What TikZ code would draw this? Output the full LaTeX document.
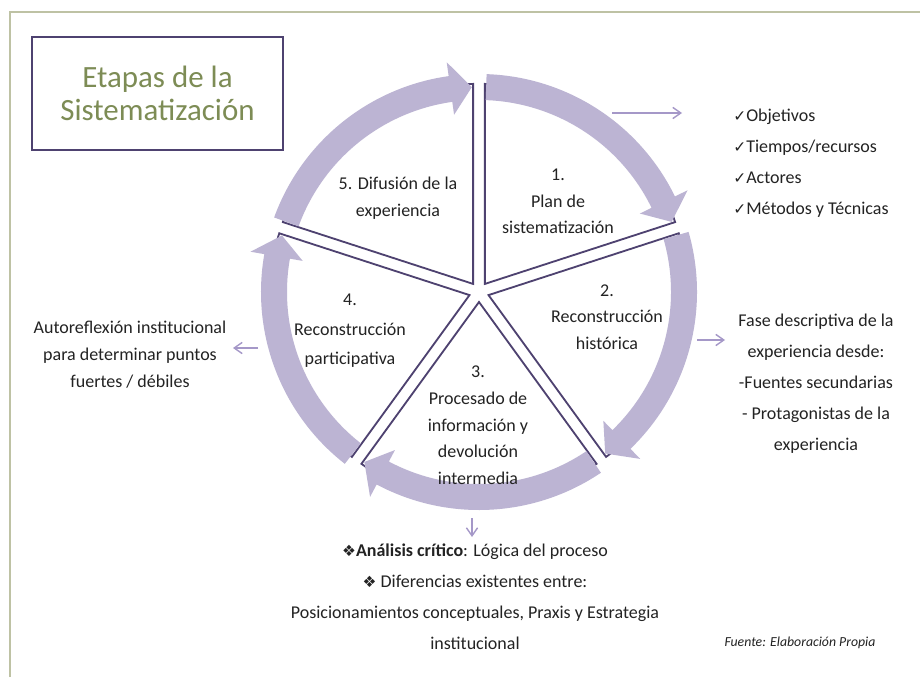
\documentclass[tikz,border=0pt]{standalone}
\usepackage{fontspec}
\setmainfont{Carlito}
\newfontfamily\symfont{DejaVu Sans}
\usetikzlibrary{arrows.meta}
\usetikzlibrary{math}

\definecolor{ringlilac}{RGB}{188,180,211}
\definecolor{spoke}{RGB}{78,66,112}
\definecolor{titlegreen}{RGB}{125,140,85}
\definecolor{framegreen}{RGB}{190,194,164}
\definecolor{linklilac}{RGB}{165,152,200}
\definecolor{ink}{RGB}{35,35,35}

\newcommand{\chk}{{\symfont\fontsize{11}{11}\selectfont ✓}}
\newcommand{\dia}{{\symfont\fontsize{11}{11}\selectfont ❖}}

\tikzset{
  wedge/.style={fill=white, draw=spoke, line width=1.3pt, line join=miter},
  ring/.style={fill=ringlilac},
  link/.style={draw=linklilac, line width=1pt, -{Straight Barb[length=2mm,width=2.8mm]}},
  stage/.style={align=center, text=ink, inner sep=0pt, font=\fontsize{12.8}{19}\selectfont},
  note/.style={align=center, text=ink, inner sep=0pt, font=\fontsize{12.8}{22}\selectfont},
}

\begin{document}
\begin{tikzpicture}[x=0.025cm, y=0.025cm]
      \tikzmath{
        \rWedge = 200;
        \dOff = 10;
        \rIn = 192;
        \rOut = 218;
        \rMid = 205;
        \rHeadIn = 179;
        \rHeadOut = 232;
      }

      \useasboundingbox (0,0) rectangle (920,-677);
      \fill[white] (0,0) rectangle (920,-677);
      \draw[framegreen, line width=1.5pt] (10,-677) -- (10,-12) -- (920,-12);

      % title box
      \node[draw=spoke, line width=1.2pt, text=titlegreen, align=center,
            minimum width=6.275cm, minimum height=2.825cm,
            font=\fontsize{22}{23}\selectfont] (title) at (157.5,-93.5) {Etapas de la\\Sistematización};

      \coordinate (C) at (479,-292);

      \begin{scope}[shift={(C)}]
        % exploded pie
        \foreach \k in {0,...,4}{
          \pgfmathsetmacro\sA{90-72*\k}
          \pgfmathsetmacro\bA{\sA-36}
          \pgfmathsetmacro\eA{\sA-72}
          \draw[wedge] (\bA:\dOff) -- ++(\sA:\rWedge)
            arc[start angle=\sA, end angle=\eA, radius=\rWedge] -- cycle;
        }
        % circular arrows
        \foreach \k in {0,...,4}{
          \pgfmathsetmacro\aS{88-72*\k}
          \pgfmathsetmacro\aB{26-72*\k}
          \pgfmathsetmacro\aT{20-72*\k}
          \fill[ring] (\aS:\rOut) arc[start angle=\aS, end angle=\aB, radius=\rOut]
            -- (\aB:\rHeadOut) -- (\aT:\rMid) -- (\aB:\rHeadIn) -- (\aB:\rIn)
            arc[start angle=\aB, end angle=\aS, radius=\rIn] -- cycle;
        }
      \end{scope}

      \node[stage] (plan) at (558,-201.5) {1.\\Plan de\\sistematización};
      \node[stage] (hist) at (607,-317) {2.\\Reconstrucción\\histórica};
      \node[stage] (proc) at (478,-425.5) {3.\\Procesado de\\información y\\devolución\\intermedia};
      \node[stage, font=\fontsize{12.8}{21}\selectfont] (part) at (350,-331) {4.\\Reconstrucción\\participativa};
      \node[stage] (difu) at (398,-198.5) {5. Difusión de la\\experiencia};

      \node[note, anchor=west, align=left] (checks) at (733,-163.5)
        {\chk Objetivos\\\chk Tiempos/recursos\\\chk Actores\\\chk Métodos y Técnicas};
      \node[note] (desc) at (816,-383.5)
        {Fase descriptiva de la\\experiencia desde:\\-Fuentes secundarias\\- Protagonistas de la\\experiencia};
      \node[note, font=\fontsize{12.8}{19.2}\selectfont] (self) at (130,-355)
        {Autoreflexión institucional\\para determinar puntos\\fuertes / débiles};
      \node[note] (crit) at (475,-596.5)
        {\dia\textbf{Análisis crítico}: Lógica del proceso\\\dia{} Diferencias existentes entre:\\Posicionamientos conceptuales, Praxis y Estrategia\hspace*{0.65cm}\\institucional};
      \node[text=ink, inner sep=0pt, font=\fontsize{9.8}{12}\selectfont\itshape] (src) at (800,-643)
        {Fuente: Elaboración Propia};

      % links from the ring to the notes
      \coordinate (plan-out) at (612,-113);
      \coordinate (plan-in) at (682,-113);
      \coordinate (hist-out) at (697,-340);
      \coordinate (hist-in) at (725,-340);
      \coordinate (part-out) at (258,-348);
      \coordinate (part-in) at (233,-348);
      \coordinate (proc-out) at (472,-518);
      \coordinate (proc-in) at (472,-537);

      \draw[link] (plan-out) -- (plan-in);
      \draw[link] (hist-out) -- (hist-in);
      \draw[link] (part-out) -- (part-in);
      \draw[link] (proc-out) -- (proc-in);

\end{tikzpicture}
\end{document}
